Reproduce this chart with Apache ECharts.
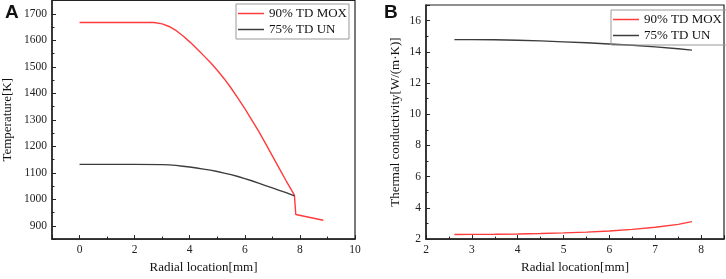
<!DOCTYPE html>
<html><head><meta charset="utf-8">
<script src="https://cdn.jsdelivr.net/npm/echarts@6/dist/echarts.min.js"></script>
<style>html,body{margin:0;padding:0;background:#fff}#c{width:726px;height:279px}</style>
</head><body><div id="c"></div>
<script>
// Panel A: temperature profile
const radiusA_MOX = [0, 1, 2, 2.7, 3.0, 3.25, 3.5, 3.75, 4.0, 4.25, 4.5, 4.75, 5.0, 5.25, 5.5, 5.75, 6.0, 6.25, 6.5, 6.75, 7.0, 7.25, 7.5, 7.8, 7.85, 8.85];
const tempA_MOX   = [1667, 1667, 1667, 1667, 1662, 1652, 1637, 1617, 1594, 1569, 1543, 1516, 1487, 1455, 1420, 1382, 1342, 1300, 1257, 1211, 1164, 1117, 1070, 1016, 943, 921];
const radiusA_UN  = [0, 1, 2, 3.0, 3.25, 3.5, 3.75, 4.0, 4.25, 4.5, 4.75, 5.0, 5.25, 5.5, 5.75, 6.0, 6.25, 6.5, 6.75, 7.0, 7.25, 7.5, 7.8];
const tempA_UN    = [1132, 1132, 1132, 1131, 1130, 1128, 1125, 1122, 1118, 1114, 1110, 1105, 1099, 1093, 1086, 1078, 1070, 1061, 1052, 1043, 1034, 1025, 1013];
// Panel B: thermal conductivity
const radiusB     = [2.62, 3.0, 3.5, 4.0, 4.5, 5.0, 5.5, 6.0, 6.5, 7.0, 7.5, 7.8];
const condB_MOX   = [2.29, 2.30, 2.31, 2.33, 2.36, 2.40, 2.45, 2.52, 2.62, 2.76, 2.94, 3.12];
const condB_UN    = [14.78, 14.78, 14.77, 14.74, 14.70, 14.64, 14.58, 14.50, 14.42, 14.32, 14.20, 14.11];
const seriesNames = ['90% TD MOX', '75% TD UN'];
const panelLetters = ['A', 'B'];
const xName = 'Radial location[mm]';
const yNames = ['Temperature[K]', 'Thermal conductivity[W/(m·K)]'];

const zip = (xs, ys) => xs.map((x, i) => [x, ys[i]]);
const SERIF = '"Liberation Serif","Times New Roman",serif';
const RED = '#ff3b3b', DARK = '#3c3c3c';
const plain = v => String(v);

function xAx(idx, min, max, iv) {
  return {
    type: 'value', gridIndex: idx, min, max, minInterval: iv, maxInterval: iv,
    name: xName, nameLocation: 'middle', nameGap: 21,
    nameTextStyle: { fontFamily: SERIF, fontSize: 13, color: '#111' },
    axisLine: { onZero: false, lineStyle: { color: '#222', width: 1.5 } },
    axisTick: { inside: true, length: 4, lineStyle: { color: '#222' } },
    minorTick: { show: true, splitNumber: 2, length: 2.5, lineStyle: { color: '#222' } },
    axisLabel: { fontFamily: SERIF, fontSize: 11.5, color: '#222', margin: 5, formatter: plain, showMinLabel: idx === 1, showMaxLabel: idx === 0 },
    splitLine: { show: false }
  };
}
function yAx(idx, min, max, iv, gap) {
  return {
    type: 'value', gridIndex: idx, min, max, minInterval: iv, maxInterval: iv,
    name: yNames[idx], nameLocation: 'middle', nameGap: gap,
    nameTextStyle: { fontFamily: SERIF, fontSize: 13, color: '#111' },
    axisLine: { show: true, onZero: false, lineStyle: { color: '#222', width: 1.5 } },
    axisTick: { inside: true, length: 4, lineStyle: { color: '#222' } },
    minorTick: { show: true, splitNumber: 2, length: 2.5, lineStyle: { color: '#222' } },
    axisLabel: { fontFamily: SERIF, fontSize: 11.5, color: '#222', margin: 5, formatter: plain, showMinLabel: idx === 1, showMaxLabel: false },
    splitLine: { show: false }
  };
}
function legend(idx, left, top) {
  return {
    data: idx === 0 ? [seriesNames[0], seriesNames[1]] : [seriesNames[0] + ' ', seriesNames[1] + ' '],
    orient: 'vertical', left, top, padding: [2, 2, 2, 2], itemGap: 1,
    icon: 'rect', itemWidth: 26, itemHeight: 1.5,
    borderColor: '#999', borderWidth: 1, borderRadius: 0,
    textStyle: { fontFamily: SERIF, fontSize: 13, color: '#111', lineHeight: 15, padding: [0, 0, 0, 0] }
  };
}
const line = (name, xi, data, color) => ({
  type: 'line', name, xAxisIndex: xi, yAxisIndex: xi, data, showSymbol: false, symbol: 'none',
  smooth: false,
  lineStyle: { color, width: 1.4 }, itemStyle: { color }, animation: false
});

const chart = echarts.init(document.getElementById('c'), null, { renderer: 'canvas' });
chart.setOption({
  animation: false,
  title: [
    { text: panelLetters[0], left: 0, top: -2, textStyle: { fontFamily: '"Liberation Sans",Arial,sans-serif', fontWeight: 'bold', fontSize: 19, color: '#111' } },
    { text: panelLetters[1], left: 379, top: -2, textStyle: { fontFamily: '"Liberation Sans",Arial,sans-serif', fontWeight: 'bold', fontSize: 19, color: '#111' } }
  ],
  grid: [
    { left: 52, right: 371, top: 0.5, bottom: 34.5, show: true, borderColor: '#222', borderWidth: 1.2 },
    { left: 426, right: 2, top: 5, bottom: 34, show: true, borderColor: '#222', borderWidth: 1.2 }
  ],
  xAxis: [xAx(0, -1, 10, 2), xAx(1, 2, 8.5, 1)],
  yAxis: [yAx(0, 850, 1750, 100, 38), yAx(1, 2, 17, 2, 24)],
  legend: [legend(0, 236, 4), legend(1, 611, 10)],
  series: [
    line(seriesNames[0], 0, zip(radiusA_MOX, tempA_MOX), RED),
    line(seriesNames[1], 0, zip(radiusA_UN, tempA_UN), DARK),
    line(seriesNames[0] + ' ', 1, zip(radiusB, condB_MOX), RED),
    line(seriesNames[1] + ' ', 1, zip(radiusB, condB_UN), DARK)
  ]
});
</script></body></html>
